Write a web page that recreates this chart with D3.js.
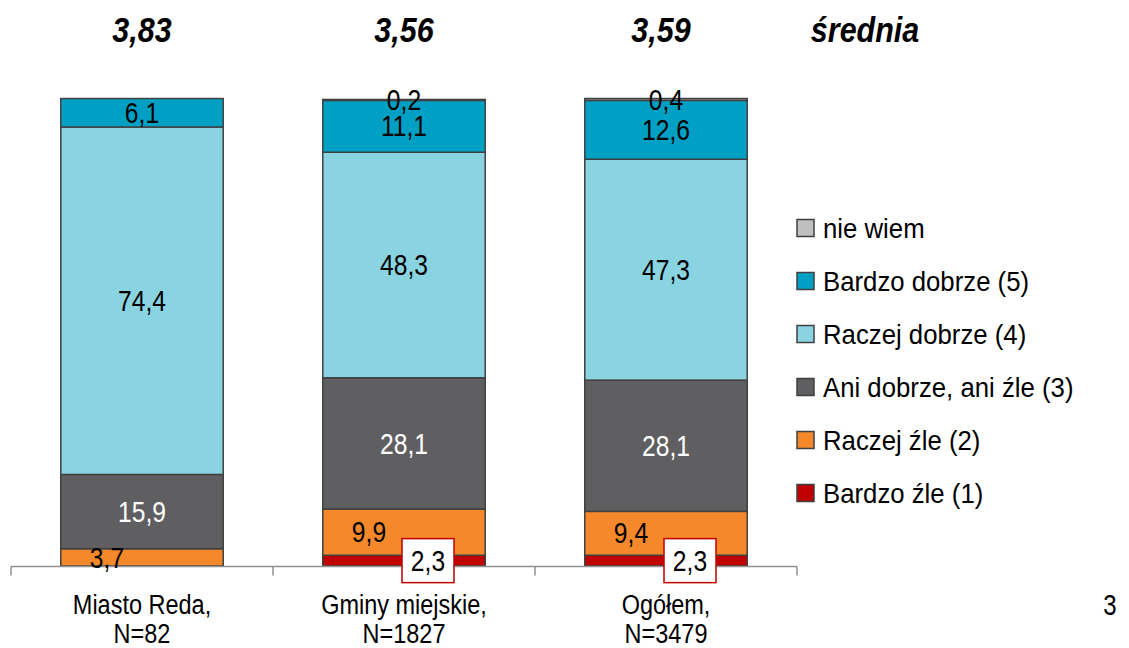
<!DOCTYPE html>
<html>

<head>
    <meta charset="utf-8">
    <title>Ocena - średnia</title>
    <script src="https://d3js.org/d3.v7.min.js"></script>
    <style>
        body { margin: 0; background: #fff; }
        text { font-family: "Liberation Sans", Arial, sans-serif; }
    </style>
</head>

<body>
    <svg width="1129" height="648"></svg>
    <script>
        // data (percent)
        const categories = ["Miasto Reda,|N=82", "Gminy miejskie,|N=1827", "Ogółem,|N=3479"];
        const keys = ["Bardzo źle (1)", "Raczej źle (2)", "Ani dobrze, ani źle (3)", "Raczej dobrze (4)", "Bardzo dobrze (5)", "nie wiem"];
        const bardzoZle = [0, 2.3, 2.3];
        const raczejZle = [3.7, 9.9, 9.4];
        const aniAni = [15.9, 28.1, 28.1];
        const raczejDobrze = [74.4, 48.3, 47.3];
        const bardzoDobrze = [6.1, 11.1, 12.6];
        const nieWiem = [0, 0.2, 0.4];
        const means = ["3,83", "3,56", "3,59"];
        const colors = ["#c00000", "#f4882a", "#5f5f61", "#8ad4e2", "#00a0c4", "#bfbfbf"];

        const series = [bardzoZle, raczejZle, aniAni, raczejDobrze, bardzoDobrze, nieWiem];
        const rows = categories.map((c, i) => {
            const r = { cat: c };
            keys.forEach((k, j) => r[k] = series[j][i]);
            return r;
        });

        const svg = d3.select("svg");

        const x = d3.scaleBand().domain(categories).range([11, 797]);
        const y = d3.scaleLinear().domain([0, 100]).range([566, 99]);
        const barW = x.bandwidth() * 0.62;
        const barOff = (x.bandwidth() - barW) / 2;

        const fmt = v => String(v.toFixed(1)).replace(".", ",");

        // helper for slightly condensed text
        function label(g, tx, ty, str, size, sx, opts = {}) {
            return g.append("text")
                .attr("transform", `translate(${tx},${ty}) scale(${sx},1)`)
                .attr("text-anchor", opts.anchor || "middle")
                .attr("dy", "0.35em")
                .attr("font-size", size)
                .attr("font-weight", opts.weight || "normal")
                .attr("font-style", opts.style || "normal")
                .attr("fill", opts.fill || "#000")
                .text(str);
        }

        const stack = d3.stack().keys(keys)(rows);

        // bars
        const layer = svg.append("g")
            .selectAll("g")
            .data(stack)
            .join("g")
            .attr("fill", (d, i) => colors[i]);

        layer.selectAll("rect")
            .data(d => d.filter(s => s[1] - s[0] > 0))
            .join("rect")
            .attr("x", d => x(d.data.cat) + barOff)
            .attr("y", d => y(d[1]))
            .attr("width", barW)
            .attr("height", d => y(d[0]) - y(d[1]))
            .attr("stroke", "#404040")
            .attr("stroke-width", 1.5);

        // axis
        const axis = svg.append("g").attr("transform", "translate(0,566.5)");
        axis.append("line")
            .attr("x1", 11).attr("x2", 797)
            .attr("stroke", "#909090").attr("stroke-width", 1.5);
        const edges = categories.map(c => x(c)).concat([x.range()[1]]);
        axis.selectAll("line.tick")
            .data(edges)
            .join("line")
            .attr("class", "tick")
            .attr("x1", d => d).attr("x2", d => d)
            .attr("y1", 0).attr("y2", 9)
            .attr("stroke", "#909090").attr("stroke-width", 1.5);

        // value labels
        const lab = svg.append("g");
        stack.forEach((s, i) => {
            s.forEach(d => {
                const v = d[1] - d[0];
                if (v <= 0) return;
                let cx = x(d.data.cat) + x.bandwidth() / 2;
                const cy = (y(d[0]) + y(d[1])) / 2;
                if (i === 1) cx -= 35;
                if (i === 0) {
                    cx += 24;
                    lab.append("rect")
                        .attr("x", cx - 26).attr("y", cy - 22)
                        .attr("width", 52).attr("height", 44)
                        .attr("fill", "#fff")
                        .attr("stroke", "#c00000").attr("stroke-width", 1.5);
                }
                label(lab, cx, cy, fmt(v), 29, 0.85, { fill: i === 2 ? "#fff" : "#000" });
            });
        });

        // means on top
        const meanG = svg.append("g");
        categories.forEach((c, i) => {
            label(meanG, x(c) + x.bandwidth() / 2 - (i === 2 ? 5 : 0), 30, means[i], 35, 0.87, { weight: "bold", style: "italic" });
        });
        label(meanG, 865, 30, "średnia", 35, 0.87, { weight: "bold", style: "italic" });

        // category labels
        const cats = svg.append("g");
        categories.forEach(c => {
            const parts = c.split("|");
            parts.forEach((p, k) => {
                label(cats, x(c) + x.bandwidth() / 2, 605 + k * 29, p, 27, 0.87);
            });
        });

        // legend
        const legend = svg.append("g");
        keys.slice().reverse().forEach((k, j) => {
            const ly = 228 + j * 53;
            const ci = keys.length - 1 - j;
            legend.append("rect")
                .attr("x", 797).attr("y", ly - 8.5)
                .attr("width", 17).attr("height", 17)
                .attr("fill", colors[ci])
                .attr("stroke", "#404040").attr("stroke-width", 1.5);
            label(legend, 823, ly, k, 28, 0.92, { anchor: "start" });
        });

        // page number
        label(svg, 1110, 604, "3", 30, 0.8);
    </script>
</body>

</html>
